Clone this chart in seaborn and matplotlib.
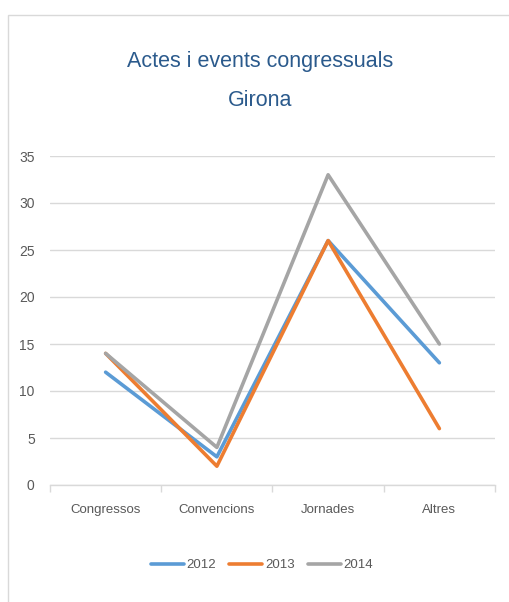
import matplotlib
matplotlib.use("Agg")
import matplotlib.pyplot as plt
import seaborn as sns
import pandas as pd
from matplotlib.patches import Rectangle
from matplotlib.ticker import FixedLocator
from matplotlib.lines import Line2D

categories = ["Congressos", "Convencions", "Jornades", "Altres"]
years = ["2012", "2013", "2014"]
v2012 = [12, 3, 26, 13]
v2013 = [14, 2, 26, 6]
v2014 = [14, 4, 33, 15]
yticks = [0, 5, 10, 15, 20, 25, 30, 35]

sns.set_theme(style="white")
plt.rcParams['font.family'] = ['Liberation Sans', 'DejaVu Sans']

rows = []
for yr, vals in zip(years, [v2012, v2013, v2014]):
    for c, v in zip(categories, vals):
        rows.append({"cat": c, "val": v, "year": yr})
df = pd.DataFrame(rows)

palette = {"2012": "#5B9BD5", "2013": "#ED7D31", "2014": "#A5A5A5"}

fig = plt.figure(figsize=(5.10, 6.02), dpi=100)
ax = fig.add_axes([50/510, 1-485/602, 445/510, 329/602])

sns.lineplot(data=df, x="cat", y="val", hue="year", palette=palette,
             sort=False, linewidth=2.6, ax=ax, legend=False)

ax.set_xlim(-0.5, 3.5)
ax.set_ylim(0, 35)
ax.set_yticks(yticks)
ax.set_yticklabels([str(t) for t in yticks], fontsize=10, color="#595959")
ax.set_xticks(range(len(categories)))
ax.set_xticklabels(categories, fontsize=9.5, color="#595959")
ax.tick_params(axis="x", which="major", length=0, pad=14)
ax.tick_params(axis="y", length=0, pad=11)
ax.xaxis.set_minor_locator(FixedLocator([-0.5, 0.5, 1.5, 2.5, 3.5]))
ax.tick_params(axis="x", which="minor", bottom=True, length=5, color="#D9D9D9", width=1)
ax.set_xlabel("")
ax.set_ylabel("")
ax.grid(axis="y", color="#D9D9D9", linewidth=1)
ax.set_axisbelow(True)
for s in ["top", "right", "left"]:
    ax.spines[s].set_visible(False)
ax.spines["bottom"].set_color("#D9D9D9")
ax.spines["bottom"].set_linewidth(1)

fig.text(260/510, 1-62/602, "Actes i events congressuals", ha="center", va="center",
         fontsize=15.5, color="#2B5A8C")
fig.text(260/510, 1-101/602, "Girona", ha="center", va="center",
         fontsize=15.5, color="#2B5A8C")

handles = [Line2D([0], [0], color=palette[y], lw=2.6) for y in years]
fig.legend(handles, years, loc="center", bbox_to_anchor=(262/510, 1-565/602),
           ncol=3, frameon=False, fontsize=9.5, handlelength=2.5, handletextpad=0.2,
           columnspacing=1.0, labelcolor="#595959")

fig.patches.append(Rectangle((8/510, -0.05), 1.1, 1-15/602+0.05, transform=fig.transFigure,
                             fill=False, edgecolor="#D9D9D9", linewidth=1))

fig.savefig("out.png", dpi=100)
